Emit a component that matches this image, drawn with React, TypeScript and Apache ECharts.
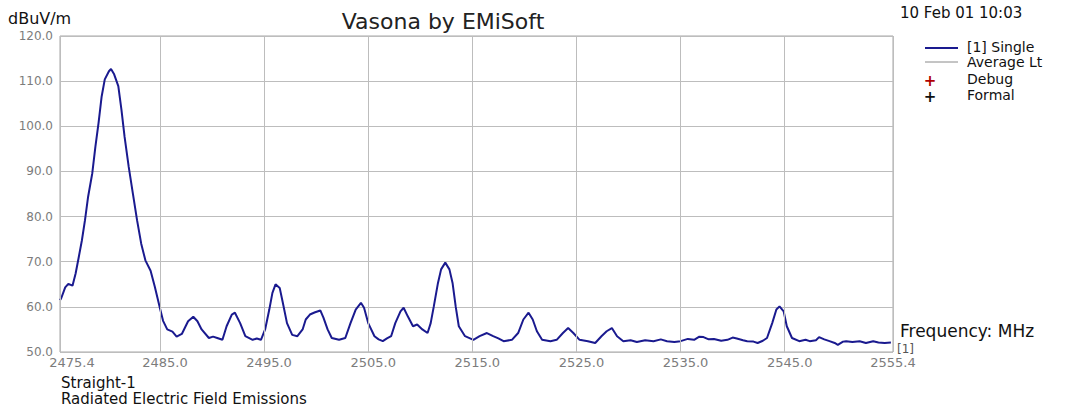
import React, { useEffect, useRef } from "react";
import * as echarts from "echarts";

// Frequency (MHz) of each trace point
const freqMHz = [
  2475.4, 2475.5, 2475.9, 2476.2, 2476.6, 2476.9, 2477.2, 2477.5, 2477.8, 2478.1,
  2478.5, 2478.8, 2479.1, 2479.4, 2479.7, 2480.1, 2480.3, 2480.6, 2481.0, 2481.3,
  2481.6, 2482.0, 2482.4, 2482.8, 2483.2, 2483.6, 2484.1, 2484.5, 2485.0, 2485.3,
  2485.7, 2486.2, 2486.6, 2487.1, 2487.7, 2488.2, 2488.6, 2489.0, 2489.7, 2490.1,
  2490.5, 2491.0, 2491.4, 2491.9, 2492.2, 2492.7, 2493.2, 2493.9, 2494.3, 2494.7,
  2495.1, 2495.5, 2495.8, 2496.1, 2496.5, 2496.8, 2497.2, 2497.7, 2498.2, 2498.7,
  2499.0, 2499.4, 2499.9, 2500.4, 2500.7, 2501.1, 2501.5, 2502.2, 2502.8, 2503.3,
  2503.8, 2504.3, 2504.6, 2505.0, 2505.6, 2506.0, 2506.4, 2506.8, 2507.2, 2507.6,
  2508.1, 2508.4, 2508.8, 2509.3, 2509.7, 2510.2, 2510.7, 2511.0, 2511.3, 2511.7,
  2512.0, 2512.4, 2512.8, 2513.1, 2513.4, 2513.7, 2514.3, 2515.1, 2515.7, 2516.4,
  2517.0, 2517.5, 2518.0, 2518.8, 2519.4, 2519.9, 2520.4, 2520.8, 2521.2, 2521.7,
  2522.5, 2523.1, 2523.7, 2524.2, 2524.7, 2525.3, 2526.1, 2526.8, 2527.4, 2527.9,
  2528.4, 2528.9, 2529.5, 2530.2, 2530.8, 2531.6, 2532.4, 2533.1, 2533.7, 2534.4,
  2535.0, 2535.7, 2536.3, 2536.8, 2537.2, 2537.7, 2538.2, 2538.9, 2539.5, 2540.0,
  2540.4, 2541.0, 2541.4, 2542.0, 2542.4, 2542.9, 2543.3, 2543.8, 2544.2, 2544.5,
  2544.9, 2545.2, 2545.7, 2546.4, 2547.0, 2547.4, 2548.0, 2548.3, 2548.8, 2549.3,
  2549.8, 2550.1, 2550.6, 2550.9, 2551.5, 2552.2, 2552.8, 2553.5, 2554.0, 2554.6,
  2555.2,
];

// Field strength (dBuV/m) of each trace point
const levelDbuv = [
  61.5, 61.8, 64.3, 65.1, 64.7, 67.4, 71.0, 74.7, 79.2, 84.4,
  89.6, 95.5, 100.7, 106.6, 110.4, 112.2, 112.7, 111.5, 108.9, 103.7,
  97.7, 91.0, 85.1, 79.2, 74.0, 70.3, 68.0, 64.5, 59.7, 56.9,
  55.0, 54.5, 53.4, 54.0, 56.8, 57.8, 56.8, 55.0, 53.1, 53.4,
  53.1, 52.7, 55.7, 58.3, 58.7, 56.4, 53.5, 52.7, 53.0, 52.7,
  55.0, 59.4, 63.1, 65.0, 64.2, 60.9, 56.4, 53.8, 53.5, 55.0,
  57.2, 58.3, 58.8, 59.2, 57.6, 55.0, 53.1, 52.7, 53.1, 56.4,
  59.4, 60.9, 59.8, 56.4, 53.5, 52.8, 52.4, 53.0, 53.5, 56.4,
  59.0, 59.8, 57.9, 55.7, 56.1, 55.0, 54.2, 56.4, 60.1, 65.3,
  68.3, 69.8, 68.3, 65.3, 60.1, 55.7, 53.5, 52.7, 53.5, 54.2,
  53.5, 53.0, 52.4, 52.7, 54.2, 57.2, 58.7, 57.2, 54.6, 52.7,
  52.4, 52.7, 54.2, 55.3, 54.2, 52.7, 52.4, 52.0, 53.5, 54.6,
  55.3, 53.5, 52.4, 52.6, 52.2, 52.6, 52.4, 52.8, 52.4, 52.2,
  52.4, 52.9, 52.7, 53.4, 53.3, 52.8, 52.9, 52.5, 52.7, 53.2,
  53.0, 52.6, 52.4, 52.3, 52.0, 52.5, 53.1, 56.4, 59.4, 60.1,
  59.0, 55.7, 53.1, 52.4, 52.7, 52.4, 52.6, 53.3, 52.8, 52.4,
  52.0, 51.6, 52.3, 52.4, 52.2, 52.4, 52.0, 52.4, 52.1, 52.0,
  52.1,
];

// X axis tick values and their labels
const xTickValues = [2475.4, 2485.0, 2495.0, 2505.0, 2515.0, 2525.0, 2535.0, 2545.0, 2555.4];
const xTickLabels = ["2475.4", "2485.0", "2495.0", "2505.0", "2515.0", "2525.0", "2535.0", "2545.0", "2555.4"];

// Legend entries
const legendNames = ["[1] Single", "Average Lt", "Debug", "Formal"];

const FONT = '"DejaVu Sans", "Liberation Sans", sans-serif';

export default function App() {
  const ref = useRef<HTMLDivElement>(null);

  useEffect(() => {
    document.body.style.margin = "0";
    const chart = echarts.init(ref.current!, null, { renderer: "svg" });
    const data = freqMHz.map((f, i) => [f, levelDbuv[i]]);
    const gridColor = "#bdbdbd";
    const labelColor = "#7c7c7c";

    const markData = xTickValues.map((v, i) => ({
      xAxis: v,
      label: {
        formatter: xTickLabels[i],
        padding: i === 0 ? [0, 0, 0, 24] : i === xTickValues.length - 1 ? [0, 0, 0, 0] : [0, 0, 0, 10],
      },
    }));

    const legendText = (text: string, y: number) => ({
      type: "text",
      x: 967,
      y,
      style: { text, fill: "#111", font: `14px ${FONT}`, lineHeight: 14, verticalAlign: "middle" },
    });

    chart.setOption({
      animation: false,
      backgroundColor: "#ffffff",
      grid: {
        left: 60,
        right: 191,
        top: 36,
        bottom: 61,
        show: true,
        borderColor: "#a6a6a6",
        borderWidth: 1,
      },
      xAxis: {
        type: "value",
        min: 2475.4,
        max: 2555.4,
        axisLine: { show: false },
        axisTick: { show: false },
        axisLabel: { show: false },
        splitLine: { show: false },
      },
      yAxis: {
        type: "value",
        min: 50,
        max: 120,
        interval: 10,
        axisLine: { show: false },
        axisTick: { show: false },
        axisLabel: {
          color: labelColor,
          fontFamily: FONT,
          fontSize: 12,
          margin: 7,
          padding: [0, 0, 6, 0],
          formatter: (v: number) => v.toFixed(1),
        },
        splitLine: { show: true, lineStyle: { color: gridColor, width: 1 } },
      },
      series: [
        {
          type: "line",
          name: "grid",
          data: [],
          z: 1,
          silent: true,
          markLine: {
            silent: true,
            symbol: ["none", "none"],
            animation: false,
            lineStyle: { color: gridColor, type: "solid", width: 1 },
            label: {
              show: true,
              position: "start",
              distance: 4,
              color: labelColor,
              fontFamily: FONT,
              fontSize: 13,
            },
            emphasis: { disabled: true },
            data: markData,
          },
        },
        {
          type: "line",
          name: legendNames[0],
          data,
          z: 3,
          symbol: "none",
          silent: true,
          lineStyle: { color: "#1a1a8f", width: 2 },
        },
      ],
      graphic: [
        { type: "text", x: 8, y: 18, style: { text: "dBuV/m", fill: "#111", font: `16px ${FONT}`, verticalAlign: "middle" } },
        { type: "text", x: 443, y: 21, style: { text: "Vasona by EMiSoft", fill: "#222", font: `22px ${FONT}`, align: "center", verticalAlign: "middle" } },
        { type: "text", x: 900, y: 13, style: { text: "10 Feb 01 10:03", fill: "#111", font: `15px ${FONT}`, verticalAlign: "middle" } },
        { type: "line", shape: { x1: 925, y1: 48, x2: 958, y2: 48 }, style: { stroke: "#1a1a8f", lineWidth: 2 } },
        { type: "line", shape: { x1: 925, y1: 62, x2: 958, y2: 62 }, style: { stroke: "#8a8a8a", lineWidth: 1 } },
        { type: "text", x: 930, y: 81, style: { text: "+", fill: "#b00000", font: `bold 15px ${FONT}`, align: "center", verticalAlign: "middle" } },
        { type: "text", x: 930, y: 97, style: { text: "+", fill: "#111", font: `bold 15px ${FONT}`, align: "center", verticalAlign: "middle" } },
        legendText(legendNames[0], 47),
        legendText(legendNames[1], 62),
        legendText(legendNames[2], 79),
        legendText(legendNames[3], 95),
        { type: "text", x: 900, y: 331, style: { text: "Frequency: MHz", fill: "#111", font: `17px ${FONT}`, verticalAlign: "middle" } },
        { type: "text", x: 897, y: 349, style: { text: "[1]", fill: "#555", font: `12px ${FONT}`, verticalAlign: "middle" } },
        { type: "text", x: 61, y: 383, style: { text: "Straight-1", fill: "#111", font: `15px ${FONT}`, lineHeight: 15, verticalAlign: "middle" } },
        { type: "text", x: 61, y: 399, style: { text: "Radiated Electric Field Emissions", fill: "#111", font: `15px ${FONT}`, lineHeight: 15, verticalAlign: "middle" } },
      ],
    });
    return () => chart.dispose();
  }, []);

  return <div ref={ref} style={{ position: "absolute", left: 0, top: 0, width: 1084, height: 413 }} />;
}
